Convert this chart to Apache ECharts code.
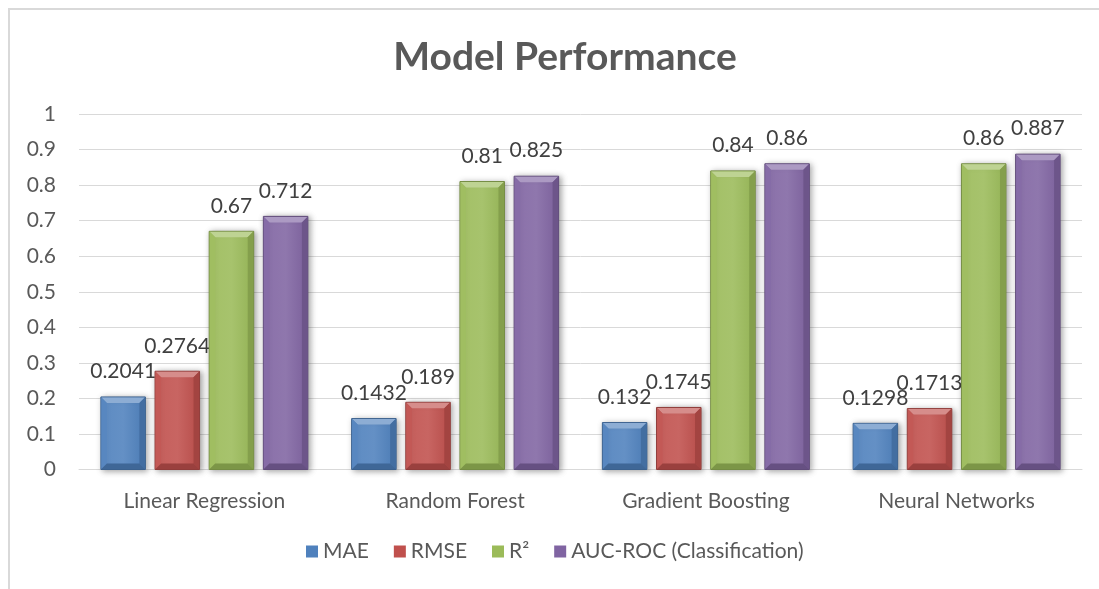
<!DOCTYPE html>
<html>
<head>
<meta charset="utf-8">
<style>
  html, body { margin: 0; padding: 0; background: #ffffff; }
  #chart { width: 1099px; height: 589px; }
</style>
<script src="https://cdn.jsdelivr.net/npm/echarts@6/dist/echarts.min.js"></script>
</head>
<body>
<div id="chart"></div>
<script>
const categories = ['Linear Regression', 'Random Forest', 'Gradient Boosting', 'Neural Networks'];
const seriesNames = ['MAE', 'RMSE', 'R²', 'AUC-ROC (Classification)'];
const maeValues = [0.2041, 0.1432, 0.132, 0.1298];
const rmseValues = [0.2764, 0.189, 0.1745, 0.1713];
const r2Values = [0.67, 0.81, 0.84, 0.86];
const aucValues = [0.712, 0.825, 0.86, 0.887];
const seriesColors = ['#4F81BD', '#C0504D', '#9BBB59', '#8064A2'];

const FONT = 'Lato, "Noto Sans", sans-serif';
const TEXT_SIZE = 21;

function mix(hex, target, t) {
  const a = parseInt(hex.slice(1), 16);
  const b = parseInt(target.slice(1), 16);
  const ch = (v, s) => (v >> s) & 255;
  const r = Math.round(ch(a, 16) + (ch(b, 16) - ch(a, 16)) * t);
  const g = Math.round(ch(a, 8) + (ch(b, 8) - ch(a, 8)) * t);
  const bl = Math.round(ch(a, 0) + (ch(b, 0) - ch(a, 0)) * t);
  return 'rgb(' + r + ',' + g + ',' + bl + ')';
}

// Bevelled column: body + lit top facet + shaded sides, plus value label above
function makeRenderItem(seriesIdx) {
  const base = seriesColors[seriesIdx];
  return function (params, api) {
    const cat = api.value(0);
    const val = api.value(1);
    const p0 = api.coord([cat, 0]);
    const p1 = api.coord([cat, val]);
    const band = api.size([1, 0])[0];
    const barW = band * 0.1775;
    const gap = band * 0.0385;
    const groupW = 4 * barW + 3 * gap;
    const x = p0[0] - groupW / 2 + seriesIdx * (barW + gap);
    const y = p1[1];
    const h = p0[1] - p1[1];
    const b = Math.min(6, h / 2);
    const light = mix(base, '#ffffff', 0.35);
    const dark = mix(base, '#000000', 0.25);
    return {
      type: 'group',
      children: [
        {
          type: 'rect',
          shape: { x: x, y: y, width: barW, height: h },
          style: {
            fill: {
              type: 'linear', x: 0, y: 0, x2: 1, y2: 0,
              colorStops: [
                { offset: 0, color: mix(base, '#ffffff', 0.08) },
                { offset: 0.5, color: mix(base, '#ffffff', 0.12) },
                { offset: 1, color: mix(base, '#000000', 0.05) }
              ]
            },
            stroke: dark,
            lineWidth: 1,
            shadowBlur: 6,
            shadowColor: 'rgba(0,0,0,0.35)',
            shadowOffsetX: 2,
            shadowOffsetY: 1
          }
        },
        {
          type: 'polygon',
          shape: { points: [[x + 0.5, y + 0.5], [x + barW - 0.5, y + 0.5], [x + barW - b, y + b], [x + b, y + b]] },
          style: { fill: light }
        },
        {
          type: 'polygon',
          shape: { points: [[x + barW - 0.5, y + 0.5], [x + barW - 0.5, y + h - 0.5], [x + barW - b, y + h - b], [x + barW - b, y + b]] },
          style: { fill: mix(base, '#000000', 0.15) }
        },
        {
          type: 'polygon',
          shape: { points: [[x + 0.5, y + 0.5], [x + b, y + b], [x + b, y + h - b], [x + 0.5, y + h - 0.5]] },
          style: { fill: mix(base, '#ffffff', 0.05) }
        },
        {
          type: 'polygon',
          shape: { points: [[x + 0.5, y + h - 0.5], [x + b, y + h - b], [x + barW - b, y + h - b], [x + barW - 0.5, y + h - 0.5]] },
          style: { fill: mix(base, '#000000', 0.2) }
        },
        {
          type: 'text',
          style: {
            text: String(val),
            x: x + barW / 2,
            y: y - 15,
            align: 'center',
            verticalAlign: 'bottom',
            font: TEXT_SIZE + 'px ' + FONT,
            fill: '#404040'
          }
        }
      ]
    };
  };
}

const valueLists = [maeValues, rmseValues, r2Values, aucValues];

const chart = echarts.init(document.getElementById('chart'), null, { renderer: 'canvas' });
chart.setOption({
  backgroundColor: '#ffffff',
  animation: false,
  title: {
    text: 'Model Performance',
    left: 560,
    textAlign: 'center',
    top: 33,
    textStyle: { color: '#595959', fontSize: 39, fontWeight: 'bold', fontFamily: FONT }
  },
  graphic: [
    {
      type: 'rect',
      shape: { x: 9, y: 9, width: 1200, height: 700 },
      style: { fill: 'none', stroke: '#d9d9d9', lineWidth: 2 },
      silent: true
    }
  ],
  legend: {
    bottom: 22,
    left: 301,
    itemWidth: 12,
    itemHeight: 12,
    itemGap: 25,
    icon: 'rect',
    data: seriesNames,
    textStyle: { color: '#595959', fontSize: TEXT_SIZE, fontFamily: FONT }
  },
  grid: { left: 79, right: 17, top: 114, bottom: 119.5, containLabel: false },
  xAxis: {
    type: 'category',
    data: categories,
    axisLine: { lineStyle: { color: '#d9d9d9', width: 1 } },
    axisTick: { show: false },
    axisLabel: { color: '#595959', fontSize: TEXT_SIZE, fontFamily: FONT, margin: 21 }
  },
  yAxis: {
    type: 'value',
    min: 0,
    max: 1,
    interval: 0.1,
    axisLine: { show: false },
    axisTick: { show: false },
    splitLine: { lineStyle: { color: '#d9d9d9', width: 1 } },
    axisLabel: { color: '#595959', fontSize: TEXT_SIZE, fontFamily: FONT, margin: 23 }
  },
  series: valueLists.map((vals, i) => ({
    name: seriesNames[i],
    type: 'custom',
    itemStyle: { color: seriesColors[i] },
    renderItem: makeRenderItem(i),
    encode: { x: 0, y: 1 },
    data: vals.map((v, j) => [j, v])
  }))
});
</script>
</body>
</html>
